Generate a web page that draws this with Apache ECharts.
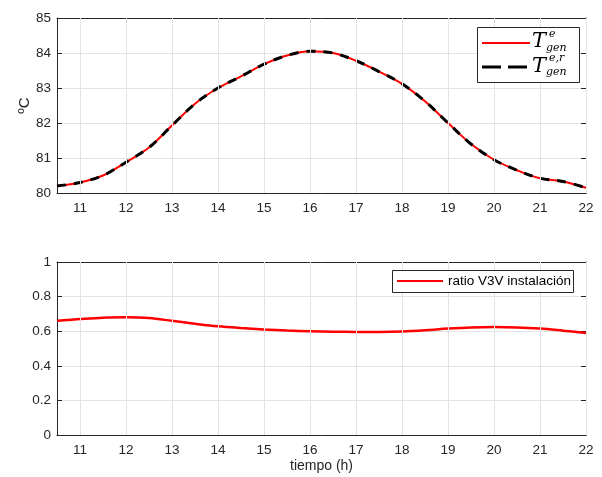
<!DOCTYPE html>
<html><head><meta charset="utf-8">
<script src="https://cdn.jsdelivr.net/npm/echarts@6/dist/echarts.min.js"></script>
<style>html,body{margin:0;padding:0;background:#fff}#c{width:602px;height:477px}</style>
</head><body><div id="c"></div>
<script>
const hours = [10.5,11,11.5,12,12.5,13,13.5,14,14.5,15,15.5,16,16.5,17,17.5,18,18.5,19,19.5,20,20.5,21,21.5,22];
const tGen = [80.2,80.3,80.5,80.88,81.3,81.93,82.55,83.0,83.33,83.68,83.93,84.05,84.0,83.78,83.47,83.12,82.62,82.0,81.4,80.95,80.65,80.42,80.33,80.15];
const tGenR = [80.2,80.3,80.5,80.88,81.3,81.93,82.55,83.0,83.33,83.68,83.93,84.05,84.0,83.78,83.47,83.12,82.62,82.0,81.4,80.95,80.65,80.42,80.33,80.15];
const ratio = [0.66,0.67,0.678,0.68,0.676,0.66,0.643,0.628,0.618,0.61,0.604,0.6,0.597,0.596,0.596,0.598,0.605,0.615,0.622,0.624,0.622,0.615,0.603,0.59];
const xTicks = [11,12,13,14,15,16,17,18,19,20,21,22];
const xLabel = 'tiempo (h)';
const yLabelTop = 'ºC';
const ratioName = 'ratio V3V instalación';

const pair = (ys) => hours.map((h,i)=>[h, ys[i]]);
const FONT = 'Liberation Sans, Arial, sans-serif';
const AX = '#262626';
const GRIDC = '#e3e3e3';
const TICKFS = 13.5;

function xAxisDef(gi, pos, showLabel, name) {
  return {
    type:'value', gridIndex:gi, position:pos, min:10.5, max:22,
    axisLine:{show:true,onZero:false,lineStyle:{color:AX,width:1}},
    axisTick:{show:true,inside:true,length:5,customValues:xTicks,lineStyle:{color:AX}},
    axisLabel:{show:showLabel,customValues:xTicks,color:AX,fontSize:TICKFS,fontFamily:FONT,margin:8},
    splitLine:{show:false},
    name:name||'', nameLocation:'middle', nameGap:24, nameMoveOverlap:false,
    nameTextStyle:{color:AX,fontSize:14,fontFamily:FONT}
  };
}
function yAxisDef(gi, pos, min, max, interval, showLabel, name, fmt) {
  return {
    type:'value', gridIndex:gi, position:pos, min:min, max:max, interval:interval,
    axisLine:{show:true,onZero:false,lineStyle:{color:AX,width:1}},
    axisTick:{show:true,inside:true,length:5,lineStyle:{color:AX}},
    axisLabel:{show:showLabel,color:AX,fontSize:TICKFS,fontFamily:FONT,margin:6,formatter:fmt},
    splitLine:{show:showLabel,lineStyle:{color:GRIDC,width:1}},
    name:name||'', nameLocation:'middle', nameGap:25, nameRotate:90, nameMoveOverlap:false,
    nameTextStyle:{color:AX,fontSize:15,fontFamily:FONT}
  };
}
const vLines = (gi) => ({
  type:'line', xAxisIndex:gi*2, yAxisIndex:gi*2, data:[], silent:true, z:1,
  markLine:{silent:true,symbol:'none',label:{show:false},animation:false,
    lineStyle:{color:GRIDC,type:'solid',width:1},
    data: xTicks.map(v=>({xAxis:v}))}
});

const option = {
  animation:false,
  grid:[
    {left:57,top:18,width:529,height:175},
    {left:57,top:262,width:529,height:173}
  ],
  xAxis:[
    xAxisDef(0,'bottom',true,''),
    xAxisDef(0,'top',false,''),
    xAxisDef(1,'bottom',true,xLabel),
    xAxisDef(1,'top',false,'')
  ],
  yAxis:[
    yAxisDef(0,'left',80,85,1,true,yLabelTop),
    yAxisDef(0,'right',80,85,1,false,''),
    yAxisDef(1,'left',0,1,0.2,true,'',v=>String(Math.round(v*10)/10)),
    yAxisDef(1,'right',0,1,0.2,false,'')
  ],
  series:[
    vLines(0), vLines(1),
    {name:'T_gen^e',type:'line',xAxisIndex:0,yAxisIndex:0,data:pair(tGen),smooth:0.35,symbol:'none',
     lineStyle:{color:'#ff0000',width:2},z:3},
    {name:'T_gen^{e,r}',type:'line',xAxisIndex:0,yAxisIndex:0,data:pair(tGenR),smooth:0.35,symbol:'none',
     lineStyle:{color:'#000000',width:3,type:[9,8]},z:4},
    {name:ratioName,type:'line',xAxisIndex:2,yAxisIndex:2,data:pair(ratio),smooth:0.35,symbol:'none',
     lineStyle:{color:'#ff0000',width:2.5},z:3}
  ],
  graphic:[
    {type:'rect',shape:{x:477.5,y:27.5,width:102,height:55},style:{fill:'#fff',stroke:AX,lineWidth:1},z:10},
    {type:'line',shape:{x1:482,y1:43,x2:530,y2:43},style:{stroke:'#ff0000',lineWidth:2},z:11},
    {type:'line',shape:{x1:482,y1:67,x2:530,y2:67},style:{stroke:'#000',lineWidth:3,lineDash:[19,7]},z:11},
    {type:'text',x:532,y:31,style:{text:'T',font:'italic 21px "DejaVu Serif", serif',fill:'#000'},z:11},
    {type:'text',x:549,y:29,style:{text:'e',font:'italic 11px "DejaVu Serif", serif',fill:'#000'},z:11},
    {type:'text',x:546,y:43,style:{text:'gen',font:'italic 11px "DejaVu Serif", serif',fill:'#000'},z:11},
    {type:'text',x:532,y:56,style:{text:'T',font:'italic 21px "DejaVu Serif", serif',fill:'#000'},z:11},
    {type:'text',x:549,y:53,style:{text:'e,r',font:'italic 11px "DejaVu Serif", serif',fill:'#000'},z:11},
    {type:'text',x:546,y:67,style:{text:'gen',font:'italic 11px "DejaVu Serif", serif',fill:'#000'},z:11},

    {type:'rect',shape:{x:392.5,y:270.5,width:181,height:22},style:{fill:'#fff',stroke:AX,lineWidth:1},z:10},
    {type:'line',shape:{x1:397,y1:281,x2:443,y2:281},style:{stroke:'#ff0000',lineWidth:2},z:11},
    {type:'text',x:448,y:274,style:{text:ratioName,font:'13.5px "Liberation Sans", Arial, sans-serif',fill:'#000'},z:11}
  ]
};
const chart = echarts.init(document.getElementById('c'),null,{renderer:'canvas'});
chart.setOption(option);
</script></body></html>
